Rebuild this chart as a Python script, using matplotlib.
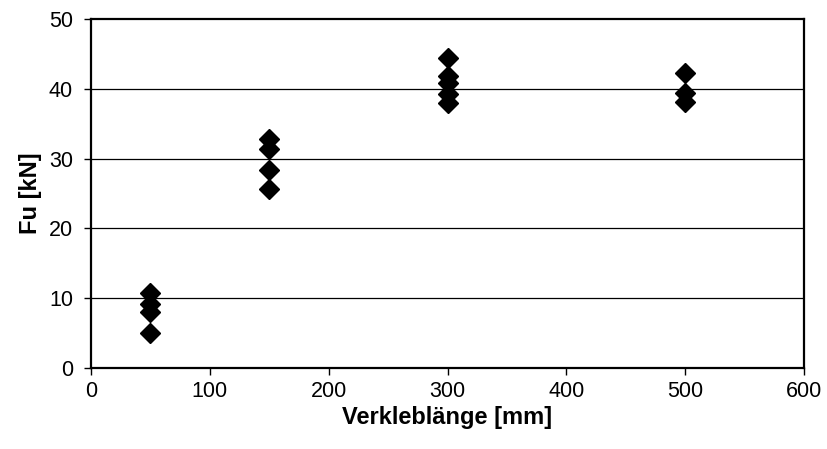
import numpy as np
import matplotlib
matplotlib.use("Agg")
import matplotlib.pyplot as plt

# Verklebelänge vs. Bruchlast
laenge = [50, 50, 50, 50,
          150, 150, 150, 150,
          300, 300, 300, 300, 300,
          500, 500, 500]
fu = [10.7, 9.2, 8.1, 5.0,
      32.8, 31.4, 28.4, 25.6,
      44.4, 41.8, 40.8, 39.3, 37.9,
      42.3, 39.4, 38.1]

x_ticks = [0, 100, 200, 300, 400, 500, 600]
y_ticks = [0, 10, 20, 30, 40, 50]

plt.rcParams['font.family'] = ['Liberation Sans', 'DejaVu Sans']

fig = plt.figure(figsize=(8.28, 4.49), dpi=100)
ax = fig.add_axes([0.110, 0.180, 0.861, 0.778])

for y in y_ticks[1:-1]:
    ax.axhline(y, color='black', lw=0.9, zorder=1)

ax.plot(laenge, fu, ls='none', marker='D', ms=10.5, color='black', zorder=3)

ax.set_xlim(0, 600)
ax.set_ylim(0, 50)
ax.set_xticks(x_ticks)
ax.set_yticks(y_ticks)
ax.tick_params(direction='out', length=5, width=1, labelsize=15.5, colors='black')
ax.tick_params(axis='y', pad=8)
ax.tick_params(axis='x', pad=4)
for s in ax.spines.values():
    s.set_linewidth(1.6)
    s.set_color('black')

ax.set_xlabel("Verkleblänge [mm]", fontsize=17, fontweight='bold', labelpad=3)
ax.set_ylabel("Fu [kN]", fontsize=17, fontweight='bold', labelpad=5)

fig.savefig("out.png", dpi=100)
